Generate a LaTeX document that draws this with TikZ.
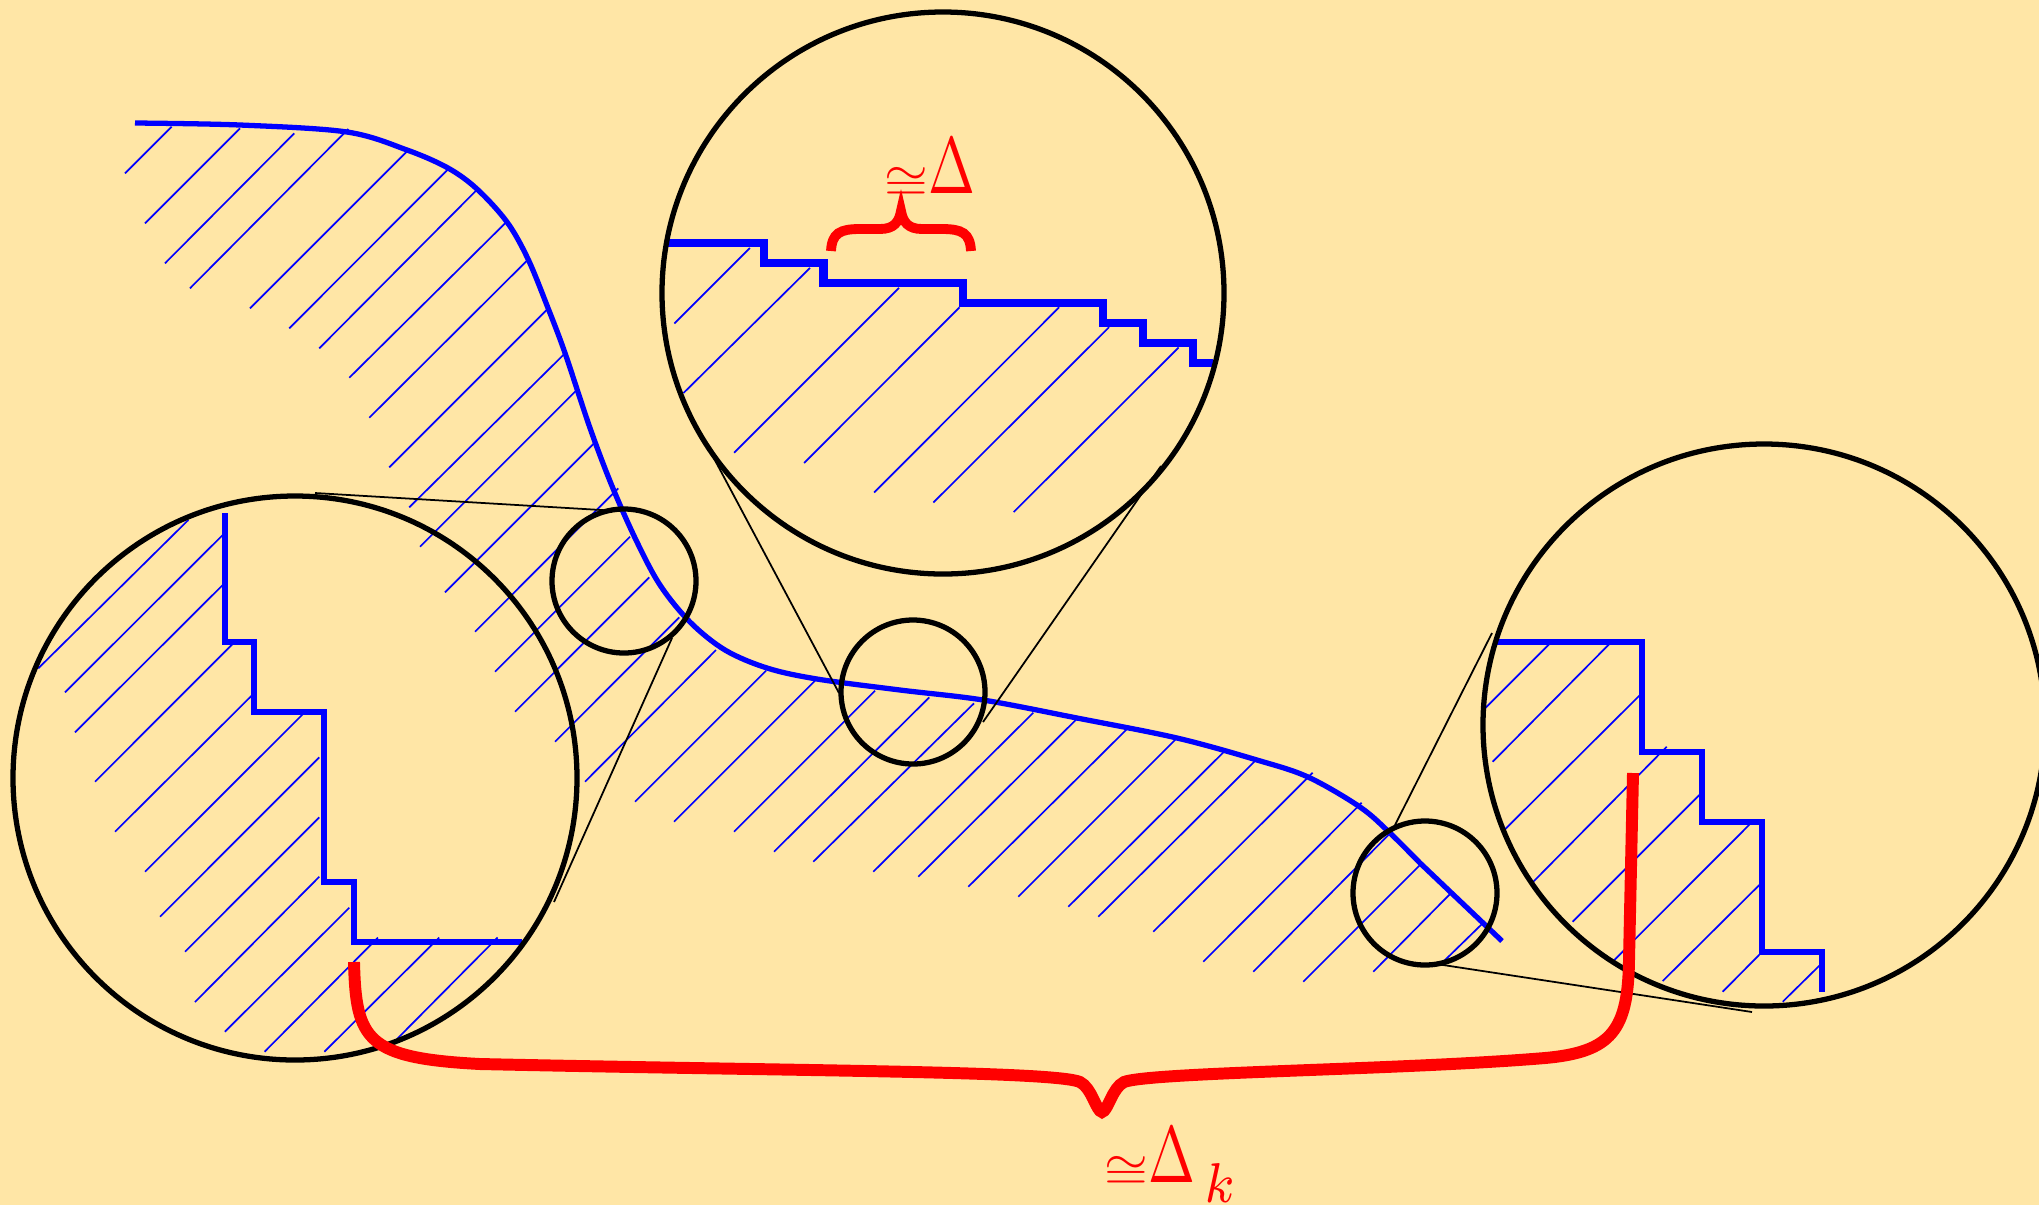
\documentclass[tikz,border=0pt]{standalone}
\usepackage{graphicx}
\definecolor{bgc}{RGB}{255,230,166}
\begin{document}
\begin{tikzpicture}[x=0.01cm,y=-0.01cm,
  hatch/.style={blue, line width=0.48pt},
  bcurve/.style={blue, line width=1.5pt},
  circ/.style={black, line width=1.5pt},
  thinline/.style={black, line width=0.5pt},
  stair/.style={blue, line width=1.5pt, line join=miter},
  bigstair/.style={blue, line width=2.4pt, line join=miter},
  redbrace/.style={red, line width=3.4pt},
  smallbrace/.style={red, line width=2.8pt},
  lab/.style={text=red, inner sep=0pt, anchor=base west}]
\fill[bgc] (0,0) rectangle (2039,1205);
\useasboundingbox (0,0) rectangle (2039,1205);
% hatching of the main band
\foreach \a/\b/\c/\d in {
171.7/126.7/125/173.3, 240/128.3/145/223.3, 294.3/133.3/165/263.3,
348.3/129/190/288.3, 406.7/151.7/250/308.3, 448.3/169/289.3/328.3,
476.7/190/319.3/348.3, 506.7/221.7/349.3/377.7, 528.3/259.3/369.3/417.7,
548.3/308.3/389.3/467.3, 565/353.3/409.3/507.3, 576.7/390/420/546.7,
595/442.3/445/592.3, 618.3/488.3/475/631.7, 630/536.7/495/671.7,
649.3/577.3/515/711.7, 679.3/617.3/555/741.7, 716/650/585/781.7,
766/670.7/635/801.7, 815/680.7/674/821.7, 875/690.7/734/831.7,
929.3/697.3/774/851.7, 974/703.3/813.3/861.7, 1033.3/712.7/873.3/871.7,
1076.7/719/918.3/876.7, 1128.3/727.7/968.3/886.7, 1176.7/738.3/1018.3/896.7,
1225/750.7/1068.3/906.7, 1256/760/1098.3/916.7, 1312.7/772.7/1153.3/931.7,
1361.7/802.7/1203.3/961.7, 1390/833.3/1253.3/971.7, 1420/865/1303.3/981.7,
1451/893/1373.3/971.7, 1483/923/1443.3/961.7}
  \draw[hatch] (\a,\b) -- (\c,\d);
% hatching in the left magnifier
\foreach \a/\b/\c/\d in {
188.3/520/38.3/668.3, 222.7/535/65/692.3, 222.7/585/75/732.3,
232.3/644.3/95/781.7, 252.3/695/115/831.7, 302.7/714.3/145/871.7,
319.3/757.3/160/916.7, 319.3/817.3/185/951.7, 319.3/876.7/195/1002,
349.3/907.7/224.9/1031.7, 378/937.5/264.6/1051.7, 439.2/937.5/324.4/1051.7,
497.6/937.5/397/1039}
  \draw[hatch] (\a,\b) -- (\c,\d);
% hatching in the top magnifier
\foreach \a/\b/\c/\d in {
749.9/248/674.4/323.4, 810/267.9/683.5/393, 899/287.8/734.1/452.7,
959.5/307.3/804.1/463, 1059.1/307.3/874.1/492.5, 1109/327.2/933.4/502.5,
1178.6/347.5/1013.7/512}
  \draw[hatch] (\a,\b) -- (\c,\d);
% hatching in the right magnifier
\foreach \a/\b/\c/\d in {
1550/643.3/1485/708.3, 1610/643.3/1492.7/761.7, 1640/695/1505/829.3,
1666.7/746.7/1533.3/881.7, 1699.3/795/1572.7/921.7, 1750/824/1614.3/960,
1759.3/885/1662.7/981, 1760/954/1722.7/991.7, 1819.3/965.7/1782.7/1001.7}
  \draw[hatch] (\a,\b) -- (\c,\d);
% main boundary curve
\draw[bcurve] plot[smooth, tension=0.55] coordinates {
(135,123) (240,125) (347,132) (407,150) (448,168) (477,189) (507,222)
(528,259) (548,308) (565,353) (590,428) (612,486) (636,540) (660,585)
(690,622) (725,650) (767,668) (817,679) (900,690) (983,700)
(1077,718) (1177,738) (1257,760) (1308,777) (1360,807) (1390,833) (1420,863)}
 -- (1502,941);
% staircases
\draw[stair] (225,513) -- (225,642) -- (254,642) -- (254,712) -- (324,712)
  -- (324,882) -- (354,882) -- (354,942) -- (522,942);
\draw[bigstair] (668,243) -- (764,243) -- (764,263) -- (823.5,263) -- (823.5,283)
  -- (963,283) -- (963,303) -- (1103,303) -- (1103,323) -- (1143,323)
  -- (1143,343) -- (1193,343) -- (1193,363) -- (1213,363);
\draw[stair] (1497,642) -- (1642,642) -- (1642,752) -- (1702,752) -- (1702,822)
  -- (1762,822) -- (1762,952) -- (1822,952) -- (1822,992);
% connector end points
\coordinate (c1a) at (315,493); \coordinate (c1b) at (618,511);
\coordinate (c1c) at (672,638); \coordinate (c1d) at (554,902);
\coordinate (c2a) at (709,449); \coordinate (c2b) at (839,693);
\coordinate (c2c) at (1161,466); \coordinate (c2d) at (983,722);
\coordinate (c3a) at (1492,633); \coordinate (c3b) at (1395,825);
\coordinate (c3c) at (1430,963); \coordinate (c3d) at (1752,1012);
\draw[thinline] (c1a) -- (c1b);
\draw[thinline] (c1c) -- (c1d);
\draw[thinline] (c2a) -- (c2b);
\draw[thinline] (c2c) -- (c2d);
\draw[thinline] (c3a) -- (c3b);
\draw[thinline] (c3c) -- (c3d);
% circles
\coordinate (s1) at (624,581);
\coordinate (s2) at (913,692);
\coordinate (s3) at (1425,893);
\coordinate (bl) at (295,778);
\coordinate (bt) at (943,293);
\coordinate (br) at (1764,725);
\draw[circ] (s1) circle[radius=72];
\draw[circ] (s2) circle[radius=72];
\draw[circ] (s3) circle[radius=72];
\draw[circ] (bl) circle[radius=282];
\draw[circ] (bt) circle[radius=281];
\draw[circ] (br) circle[radius=281];
% small brace
\draw[smallbrace] (831,251) .. controls (832,233) and (840,229) .. (860,229)
  -- (880,229) .. controls (894,229) and (899,222) .. (901,211)
  .. controls (903,222) and (908,229) .. (922,229) -- (942,229)
  .. controls (962,229) and (970,233) .. (971,251);
% large brace
\draw[redbrace] (354,962) .. controls (356,1040) and (366,1058) .. (480,1064)
  .. controls (800,1071) and (1055,1071) .. (1080,1082)
  .. controls (1092,1088) and (1096,1111) .. (1102,1112)
  .. controls (1108,1111) and (1112,1088) .. (1124,1082)
  .. controls (1150,1072) and (1400,1070) .. (1545,1058)
  .. controls (1612,1052) and (1628,1030) .. (1629,960)
  -- (1633,773);
% labels
\node[lab] (l1) at (884,193) {\raisebox{-1.5pt}{\scalebox{1.6}[1.4]{$\cong$}}\scalebox{1.6}[2.28]{$\Delta$}};
\node[lab] (l2) at (1104,1182) {\raisebox{-1.5pt}{\scalebox{1.6}[1.4]{$\cong$}}\scalebox{1.6}[2.28]{$\Delta$}\hspace{2.5pt}\raisebox{-5.7pt}{\scalebox{2}[2.28]{$\scriptstyle k$}}};
\end{tikzpicture}
\end{document}
